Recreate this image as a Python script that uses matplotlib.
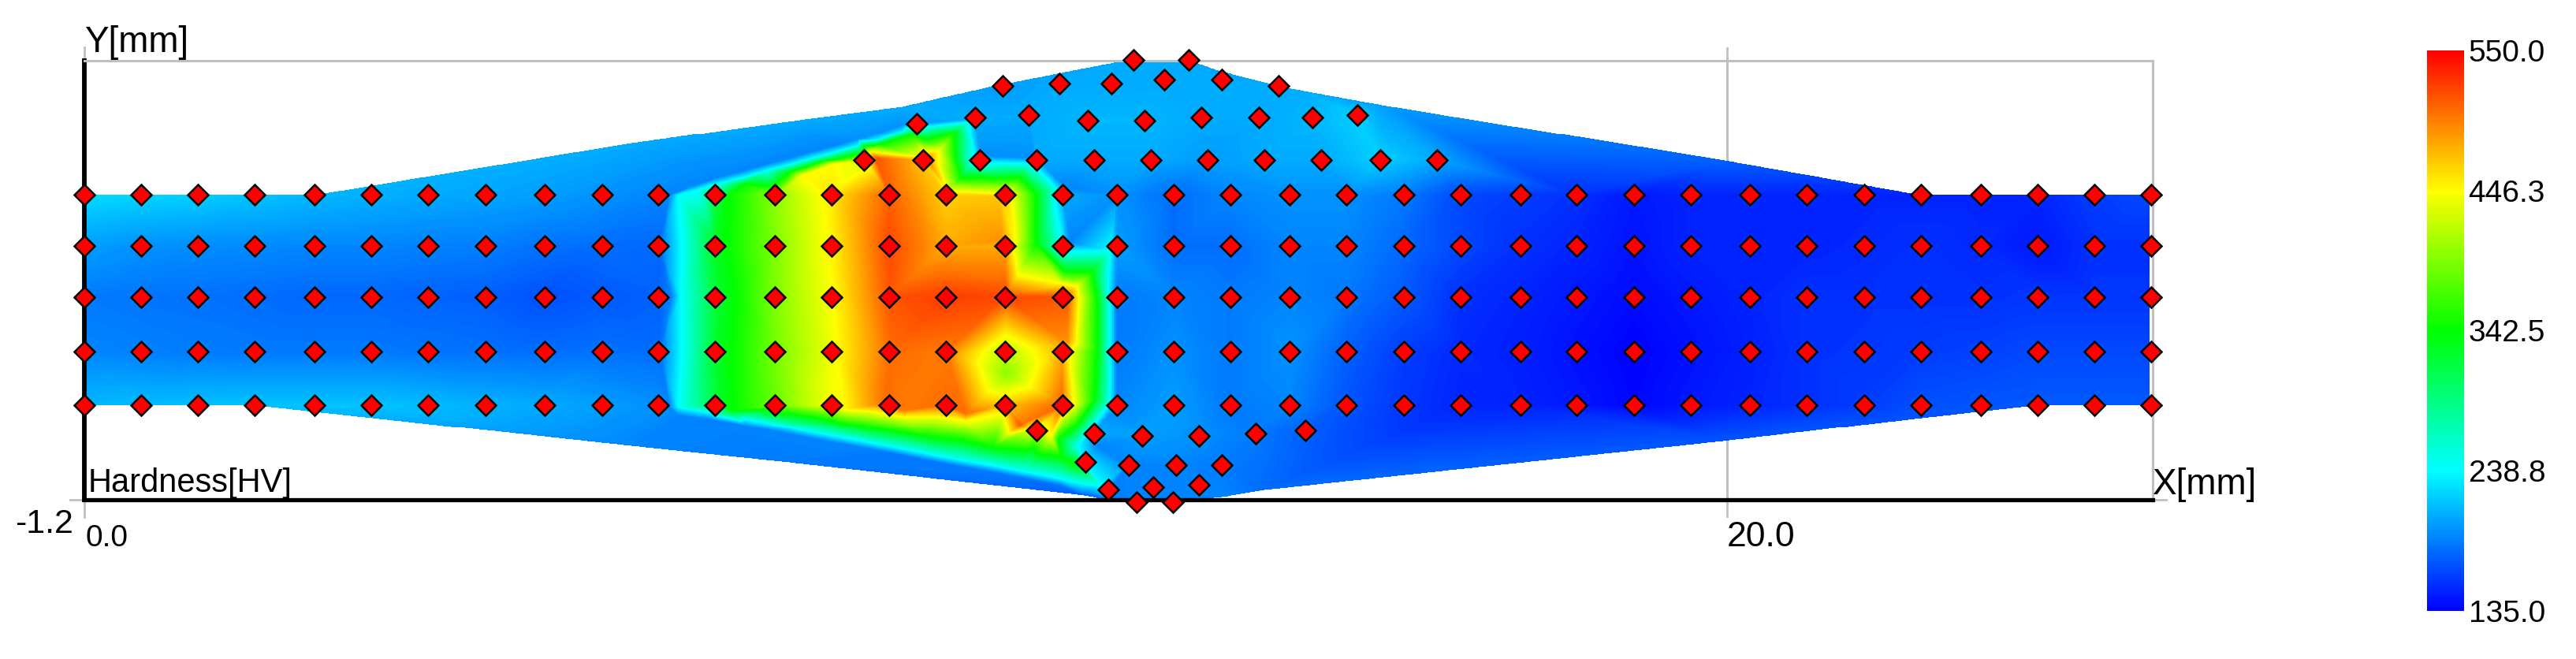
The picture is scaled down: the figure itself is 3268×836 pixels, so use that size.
"""Hardness map of a welded specimen with indent positions."""

import matplotlib

matplotlib.use("Agg")
import matplotlib.pyplot as plt
import numpy as np
from matplotlib.colors import LinearSegmentedColormap
from matplotlib.path import Path
from matplotlib.tri import LinearTriInterpolator, Triangulation

W, H = 3268, 836
X_RANGE = (0.0, 25.18)
Y_RANGE = (-1.2, 4.145)
HV_TICKS = [135.0, 238.8, 342.5, 446.3, 550.0]

# indents on the regular grid: one row of hardness per y position
col_x = [0.00, 0.69, 1.38, 2.07, 2.80, 3.49, 4.18, 4.88, 5.60, 6.30, 6.99, 7.68, 8.41, 9.10, 9.80, 10.49, 11.21,
         11.91, 12.57, 13.26, 13.95, 14.67, 15.36, 16.06, 16.75, 17.48, 18.17, 18.87, 19.56, 20.28, 20.97, 21.67,
         22.36, 23.09, 23.78, 24.47, 25.16]
row_y = [2.51, 1.89, 1.27, 0.60, -0.05]
hv_row_1 = [225, 222, 220, 215, 210, 207, 205, 203, 200, 195, 190, 320, 400, 455, 510, 465, 465, 205, 195, 180, 190,
            195, 195, 185, 165, 160, 155, 145, 150, 150, 150, 150, 150, 150, 150, 160, 165]
hv_row_2 = [200, 195, 193, 192, 190, 190, 188, 187, 182, 180, 178, 330, 395, 450, 520, 480, 480, 240, 200, 180, 180,
            190, 190, 178, 165, 155, 150, 143, 150, 150, 150, 152, 155, 152, 145, 155, 155]
hv_row_3 = [185, 183, 182, 180, 178, 178, 176, 174, 168, 172, 175, 320, 395, 445, 515, 525, 520, 515, 185, 190, 185,
            190, 185, 172, 155, 150, 145, 140, 145, 150, 155, 155, 155, 155, 157, 157, 157]
hv_row_4 = [190, 188, 186, 185, 185, 185, 183, 182, 180, 182, 180, 325, 390, 440, 505, 500, 415, 480, 185, 195, 185,
            195, 175, 160, 152, 148, 142, 136, 142, 148, 155, 157, 160, 162, 165, 165, 165]
hv_row_5 = [210, 212, 214, 215, 215, 215, 212, 208, 205, 200, 195, 320, 385, 445, 505, 505, 470, 510, 190, 200, 185,
            190, 170, 158, 150, 150, 145, 138, 145, 150, 155, 160, 168, 170, 172, 172, 172]

# indents off the grid, above and below the specimen centre
extra_x = [9.49, 10.21, 10.90, 11.59, 12.29, 12.98, 13.67, 14.37, 15.06, 15.78, 16.47,
           10.13, 10.84, 11.50, 12.22, 12.91, 13.60, 14.30, 14.95, 15.50,
           11.18, 11.87, 12.50, 13.15, 13.85, 14.54, 12.77, 13.44,
           11.59, 12.29, 12.88, 13.57, 14.26, 14.86,
           12.19, 12.71, 13.29, 13.85, 12.47, 13.01, 13.57, 12.81, 13.25]
extra_y = [2.94, 2.94, 2.94, 2.94, 2.94, 2.94, 2.94, 2.94, 2.94, 2.94, 2.94,
           3.38, 3.45, 3.48, 3.42, 3.42, 3.45, 3.45, 3.45, 3.48,
           3.84, 3.87, 3.87, 3.91, 3.91, 3.84, 4.15, 4.15,
           -0.36, -0.39, -0.42, -0.42, -0.39, -0.36,
           -0.74, -0.78, -0.78, -0.78, -1.08, -1.05, -1.02, -1.23, -1.23]
extra_hv = [430, 470, 205, 205, 205, 205, 200, 205, 205, 220, 205,
            200, 205, 205, 210, 210, 205, 205, 210, 220,
            200, 205, 205, 205, 205, 205, 205, 205,
            420, 205, 200, 195, 185, 175,
            230, 190, 190, 185, 190, 190, 190, 190, 190]

# specimen outline, clockwise from the top left corner
outline_x = [0.00, 2.80, 6.65, 8.57, 9.95, 11.06, 12.66, 13.46, 13.81, 14.86, 15.80, 19.98, 22.36, 25.16,
             25.16, 23.78, 22.25, 19.98, 14.33, 13.87, 12.49, 12.16, 8.57, 6.65, 2.07, 0.00]
outline_y = [2.51, 2.51, 3.14, 3.41, 3.59, 3.84, 4.15, 4.15, 4.03, 3.78, 3.61, 2.93, 2.51, 2.51,
             -0.05, -0.05, -0.22, -0.49, -1.09, -1.17, -1.21, -1.15, -0.75, -0.55, -0.05, -0.05]
outline_hv = [225, 210, 205, 205, 205, 200, 205, 205, 200, 205, 200, 175, 150, 165,
              172, 172, 170, 170, 180, 190, 185, 175, 185, 190, 215, 210]

# hardened zone contours
rim_x = [7.12, 7.15, 7.12, 7.43, 7.75, 8.03, 8.30, 8.58, 8.86, 9.13, 9.41, 9.68, 9.96, 10.92, 11.55, 11.97, 12.00,
         12.33, 12.49, 11.89, 11.47, 11.06, 10.65, 10.23, 9.82, 9.41, 9.13, 8.86, 8.41, 8.03, 7.62, 7.23]
rim_y = [-0.07, 1.27, 2.51, 2.63, 2.74, 2.81, 2.89, 2.96, 3.04, 3.11, 3.19, 3.27, 3.37, 2.98, 2.96, 2.60, 1.94,
         -0.55, -1.12, -1.03, -0.95, -0.87, -0.80, -0.72, -0.64, -0.56, -0.51, -0.46, -0.37, -0.30, -0.22, -0.17]
rim_hv = [190, 190, 190, 190, 190, 190, 190, 190, 190, 190, 195, 195, 195, 195, 195, 190, 190,
          190, 185, 185, 185, 185, 185, 185, 185, 190, 190, 190, 190, 190, 190, 190]

cyan_x = [7.23, 7.26, 7.23, 7.48, 7.75, 8.03, 8.30, 8.58, 8.86, 9.13, 9.41, 9.68, 9.96, 10.18, 10.77, 10.81, 11.50,
          11.86, 11.89, 12.49, 12.49, 12.49, 12.49, 12.10, 12.38, 11.89, 11.47, 11.06, 10.65, 10.23, 9.82, 9.41,
          9.13, 8.86, 8.41, 8.03, 7.62]
cyan_y = [-0.07, 1.27, 2.51, 2.58, 2.66, 2.73, 2.81, 2.88, 2.96, 3.03, 3.11, 3.19, 3.29, 3.34, 3.36, 2.91, 2.89,
          2.56, 1.86, 1.84, 1.24, 0.61, 0.02, -0.55, -1.04, -0.95, -0.87, -0.79, -0.72, -0.64, -0.56, -0.48,
          -0.43, -0.38, -0.29, -0.22, -0.14]

green_x = [7.89, 7.92, 7.84, 8.03, 8.58, 9.13, 9.68, 10.07, 10.59, 10.67, 11.39, 11.58, 11.58, 11.94, 12.27, 12.33,
           12.33, 12.30, 11.86, 12.08, 11.89, 11.06, 10.23, 9.41, 8.41]
green_y = [-0.11, 1.27, 2.51, 2.64, 2.79, 2.94, 3.13, 3.25, 3.27, 2.72, 2.72, 2.53, 1.92, 1.58, 1.58, 1.24,
           0.61, 0.02, -0.47, -0.78, -0.68, -0.57, -0.43, -0.30, -0.14]

yellow_x = [9.24, 9.96, 10.73, 11.50, 11.77, 12.05, 12.08, 12.08, 11.89, 11.33, 11.28, 10.51, 10.40, 9.57, 9.13, 8.74]
yellow_y = [-0.10, -0.19, -0.24, -0.34, -0.43, -0.05, 0.71, 1.39, 1.43, 1.96, 2.53, 2.56, 3.04, 3.04, 2.89, 2.75]

core_x = [9.74, 9.96, 10.73, 11.39, 11.44, 11.94, 11.97, 11.97, 11.17, 11.14, 10.26, 9.63, 11.22]
core_y = [-0.03, -0.11, -0.15, -0.29, -0.26, -0.05, 0.71, 1.27, 1.96, 2.49, 2.96, 2.96, 0.33]
core_hv = [505, 500, 505, 515, 500, 490, 490, 515, 490, 470, 500, 515, 400]

hv_grid = [hv_row_1, hv_row_2, hv_row_3, hv_row_4, hv_row_5]
indent_x = [x for y in row_y for x in col_x] + extra_x
indent_y = [y for y in row_y for x in col_x] + extra_y
indent_hv = [v for row in hv_grid for v in row] + extra_hv

field_x = indent_x + outline_x + rim_x + cyan_x + green_x + yellow_x + core_x
field_y = indent_y + outline_y + rim_y + cyan_y + green_y + yellow_y + core_y
field_hv = (indent_hv + outline_hv + rim_hv + [HV_TICKS[1]] * len(cyan_x) + [HV_TICKS[2]] * len(green_x)
            + [HV_TICKS[3]] * len(yellow_x) + core_hv)

# later duplicates of an outline corner are dropped, indents win
nodes = {}
for x, y, v in zip(field_x, field_y, field_hv):
    nodes.setdefault((x, y), v)
node_x = np.array([k[0] for k in nodes])
node_y = np.array([k[1] for k in nodes])
node_hv = np.array(list(nodes.values()), dtype=float)

tri = Triangulation(node_x, node_y)
outline = Path(np.column_stack([outline_x, outline_y]))
centres = np.column_stack([node_x[tri.triangles].mean(axis=1), node_y[tri.triangles].mean(axis=1)])
tri.set_mask(~outline.contains_points(centres))

# value-wise interpolation, gouraud would blend the rgb colours instead
xi, yi = np.meshgrid(np.linspace(*X_RANGE, 1320), np.linspace(*Y_RANGE, 560))
field = LinearTriInterpolator(tri, node_hv)(xi, yi)

hv_cmap = LinearSegmentedColormap.from_list("hv", ["#0000ff", "#00ffff", "#00ff00", "#ffff00", "#ff0000"])

fig = plt.figure(figsize=(W / 100, H / 100), dpi=100, facecolor="white")
plt.rcParams["font.family"] = ["Liberation Sans", "DejaVu Sans"]
ax = fig.add_axes([107 / W, 1 - 634 / H, (2731 - 107) / W, (634 - 77) / H])
im = ax.imshow(field, extent=[*X_RANGE, *Y_RANGE], origin="lower", aspect="auto", cmap=hv_cmap,
               vmin=HV_TICKS[0], vmax=HV_TICKS[-1], interpolation="nearest", zorder=2)
ax.set_xlim(*X_RANGE)
ax.set_ylim(*Y_RANGE)
ax.set_xticks([])
ax.set_yticks([])
ax.axvline(20.0, color="#c0c0c0", lw=2, zorder=1)
ax.plot([20.0, 20.0], [Y_RANGE[0] - 0.2, Y_RANGE[1] + 0.15], color="#c0c0c0", lw=2, clip_on=False, zorder=1)
ax.plot([0.0, 0.0], [Y_RANGE[0] - 0.21, Y_RANGE[1] + 0.16], color="#c0c0c0", lw=2, clip_on=False, zorder=1)
ax.plot([-0.17, 0.0], [Y_RANGE[0], Y_RANGE[0]], color="#c0c0c0", lw=2, clip_on=False, zorder=1)
ax.plot([X_RANGE[1], X_RANGE[1] + 0.16], [Y_RANGE[0], Y_RANGE[0]], color="#c0c0c0", lw=2, clip_on=False, zorder=1)
for side, color, lw in [("top", "#c0c0c0", 2.2), ("right", "#c0c0c0", 2.2), ("left", "black", 4.2), ("bottom", "black", 3.8)]:
    ax.spines[side].set_color(color)
    ax.spines[side].set_linewidth(lw)
    ax.spines[side].set_zorder(3)
ax.plot(indent_x, indent_y, "D", mfc="#ff0000", mec="black", mew=1.8, ms=13, clip_on=False, zorder=5)

for label, px, py, size in [("Y[mm]", 107, 66, 33), ("Hardness[HV]", 112, 624, 30), ("-1.2", 19, 676, 31),
                            ("0.0", 108, 693, 28), ("20.0", 2191, 693, 32), ("X[mm]", 2731, 627, 33)]:
    fig.text(px / W, 1 - py / H, label, ha="left", va="baseline", fontsize=size, color="black", zorder=6)

cax = fig.add_axes([3079 / W, 1 - 775 / H, 47 / W, (775 - 64) / H])
cbar = fig.colorbar(im, cax=cax)
cbar.set_ticks(HV_TICKS, labels=[f"{v:.1f}" for v in HV_TICKS])
cbar.ax.tick_params(length=0, pad=4, labelsize=28)
cbar.outline.set_visible(False)

fig.savefig("out.png", dpi=100)
